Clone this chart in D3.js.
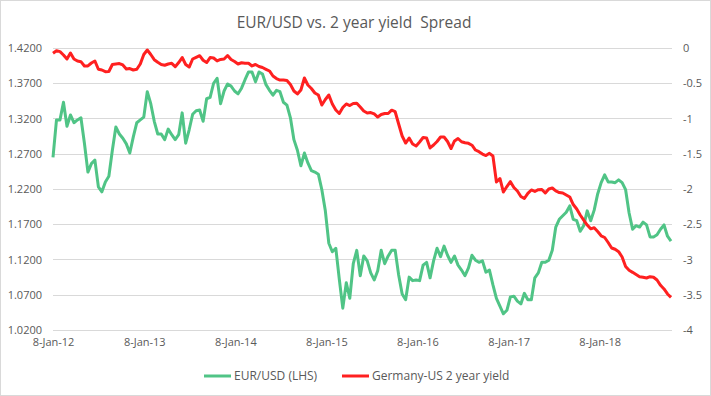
<!DOCTYPE html>
<html>
<head>
<meta charset="utf-8">
<script src="https://cdn.jsdelivr.net/npm/d3@7"></script>
<style>
  body { margin: 0; background: #fff; }
  .chart text { font-family: "Open Sans", sans-serif; fill: #595959; }
  .chart-title { font-size: 15.5px; white-space: pre; }
  .axis text { font-size: 11px; }
  .legend text { font-size: 12px; }
</style>
</head>
<body>
<div class="chart"></div>
<script>
// weekly-ish observations, every 2 weeks from 8-Jan-12
var startDate = "2012-01-08";
var stepDays = 14;

// EUR/USD (LHS)
var eurusd = [
  1.265, 1.318, 1.318, 1.343, 1.309, 1.325, 1.314, 1.318, 1.321, 1.285,
  1.244, 1.256, 1.261, 1.223, 1.216, 1.230, 1.238, 1.275, 1.308, 1.298,
  1.292, 1.284, 1.271, 1.294, 1.314, 1.318, 1.322, 1.358, 1.341, 1.316,
  1.298, 1.298, 1.290, 1.305, 1.297, 1.290, 1.297, 1.328, 1.285, 1.304,
  1.326, 1.331, 1.332, 1.316, 1.348, 1.350, 1.370, 1.377, 1.341, 1.359,
  1.369, 1.366, 1.359, 1.355, 1.363, 1.375, 1.386, 1.386, 1.372, 1.386,
  1.383, 1.368, 1.360, 1.353, 1.360, 1.358, 1.343, 1.339, 1.321, 1.290,
  1.275, 1.253, 1.271, 1.257, 1.246, 1.244, 1.241, 1.219, 1.189, 1.143,
  1.131, 1.136, 1.092, 1.051, 1.087, 1.065, 1.114, 1.133, 1.097, 1.125,
  1.118, 1.101, 1.091, 1.104, 1.133, 1.114, 1.125, 1.133, 1.133, 1.098,
  1.071, 1.063, 1.095, 1.090, 1.091, 1.090, 1.112, 1.116, 1.094, 1.118,
  1.136, 1.124, 1.139, 1.126, 1.116, 1.125, 1.112, 1.105, 1.097, 1.108,
  1.126, 1.119, 1.116, 1.118, 1.102, 1.105, 1.084, 1.065, 1.054, 1.043,
  1.048, 1.067, 1.068, 1.061, 1.057, 1.072, 1.063, 1.063, 1.094, 1.101,
  1.116, 1.116, 1.119, 1.133, 1.166, 1.177, 1.182, 1.187, 1.196, 1.177,
  1.175, 1.160, 1.168, 1.189, 1.175, 1.190, 1.213, 1.229, 1.240, 1.230,
  1.230, 1.229, 1.233, 1.229, 1.219, 1.186, 1.163, 1.168, 1.166, 1.173,
  1.169, 1.152, 1.152, 1.155, 1.163, 1.169, 1.153, 1.146
];

// Germany-US 2 year yield spread (RHS)
var spread = [
  -0.075, -0.038, -0.052, -0.099, -0.156, -0.071, -0.156, -0.184, -0.194, -0.255,
  -0.255, -0.213, -0.184, -0.302, -0.312, -0.336, -0.333, -0.234, -0.227, -0.220,
  -0.241, -0.298, -0.291, -0.312, -0.302, -0.227, -0.092, -0.028, -0.092, -0.166,
  -0.203, -0.234, -0.245, -0.227, -0.217, -0.265, -0.206, -0.135, -0.234, -0.270,
  -0.156, -0.132, -0.109, -0.174, -0.206, -0.135, -0.142, -0.184, -0.163, -0.156,
  -0.106, -0.163, -0.191, -0.227, -0.209, -0.217, -0.217, -0.255, -0.234, -0.262,
  -0.277, -0.302, -0.326, -0.397, -0.433, -0.454, -0.454, -0.461, -0.518, -0.610,
  -0.652, -0.596, -0.426, -0.525, -0.574, -0.638, -0.667, -0.809, -0.730, -0.667,
  -0.794, -0.879, -0.929, -0.844, -0.794, -0.816, -0.787, -0.784, -0.837, -0.894,
  -0.922, -0.915, -0.936, -0.979, -0.943, -0.929, -0.929, -0.882, -0.904, -1.078,
  -1.248, -1.348, -1.277, -1.362, -1.390, -1.333, -1.270, -1.277, -1.418, -1.376,
  -1.326, -1.262, -1.262, -1.326, -1.426, -1.319, -1.284, -1.330, -1.344, -1.352,
  -1.379, -1.447, -1.471, -1.504, -1.525, -1.494, -1.532, -1.901, -1.851, -2.043,
  -1.965, -1.896, -1.979, -2.028, -2.106, -2.135, -2.061, -2.014, -2.035, -2.010,
  -2.007, -2.057, -2.000, -1.986, -2.028, -2.050, -2.057, -2.085, -2.113, -2.220,
  -2.284, -2.369, -2.440, -2.511, -2.565, -2.549, -2.603, -2.664, -2.688, -2.759,
  -2.837, -2.855, -2.889, -2.965, -3.099, -3.153, -3.182, -3.213, -3.244, -3.252,
  -3.262, -3.244, -3.252, -3.291, -3.366, -3.418, -3.489, -3.536
];

// axis ticks
var xTickDates = ["2012-01-08", "2013-01-08", "2014-01-08", "2015-01-08", "2016-01-08", "2017-01-08", "2018-01-08"];
var leftTicks = [1.02, 1.07, 1.12, 1.17, 1.22, 1.27, 1.32, 1.37, 1.42];
var rightTicks = [0, -0.5, -1, -1.5, -2, -2.5, -3, -3.5, -4];

var seriesNames = ["EUR/USD (LHS)", "Germany-US 2 year yield"];
var seriesColors = ["#50c486", "#ff2020"];

function drawChart() {

    var W = 711, H = 396;
    var margin = {top: 48, right: 39, bottom: 66, left: 53},
        width = W - margin.left - margin.right,
        height = H - margin.top - margin.bottom;

    var parseDate = d3.utcParse("%Y-%m-%d");
    var formatDate = d3.utcFormat("%-d-%b-%y");
    var start = parseDate(startDate);
    var dates = eurusd.map(function(d, i) { return d3.utcDay.offset(start, i * stepDays); });

    var data = dates.map(function(d, i) {
        return {date: d, fx: eurusd[i], spread: spread[i]};
    });

    // scales
    var x = d3.scaleUtc()
        .domain(d3.extent(dates))
        .range([0, width - 1]);
    var yL = d3.scaleLinear().domain([1.02, 1.42]).range([height, 0]);
    var yR = d3.scaleLinear().domain([-4, 0]).range([height, 0]);

    var svg = d3.select(".chart").append("svg")
        .attr("width", W)
        .attr("height", H);

    // chart border
    svg.append("rect")
        .attr("x", 0.5).attr("y", 0.5)
        .attr("width", W - 1).attr("height", H - 1)
        .attr("fill", "#fff")
        .attr("stroke", "#d9d9d9");

    svg.append("text")
        .attr("class", "chart-title")
        .attr("x", 354)
        .attr("y", 28)
        .attr("text-anchor", "middle")
        .text("EUR/USD vs. 2 year yield  Spread");

    var g = svg.append("g")
        .attr("transform", `translate(${margin.left}, ${margin.top})`);

    // gridlines
    g.append("g")
        .selectAll("line")
        .data(leftTicks)
        .join("line")
        .attr("x1", 0)
        .attr("x2", width)
        .attr("y1", function(d) { return Math.round(yL(d)) + 0.5; })
        .attr("y2", function(d) { return Math.round(yL(d)) + 0.5; })
        .attr("stroke", "#d9d9d9")
        .attr("stroke-width", 1);

    // left axis
    var left = g.append("g")
        .attr("class", "axis")
        .attr("transform", "translate(-11, 0)")
        .call(d3.axisLeft(yL).tickValues(leftTicks).tickSize(0).tickPadding(0).tickFormat(d3.format(".4f")));
    left.select(".domain").remove();

    // right axis
    var right = g.append("g")
        .attr("class", "axis")
        .attr("transform", `translate(${width + 11}, 0)`)
        .call(d3.axisRight(yR).tickValues(rightTicks).tickSize(0).tickPadding(0)
            .tickFormat(function(d) { return String(d); }));
    right.select(".domain").remove();

    // x axis
    var bottom = g.append("g")
        .attr("class", "axis")
        .attr("transform", `translate(0, ${height + 8})`)
        .call(d3.axisBottom(x).tickValues(xTickDates.map(parseDate)).tickSize(0).tickPadding(0).tickFormat(formatDate));
    bottom.select(".domain").remove();

    g.selectAll(".axis text").attr("fill", "#595959");

    // lines
    var fxLine = d3.line()
        .x(function(d) { return x(d.date); })
        .y(function(d) { return yL(d.fx); });
    var spreadLine = d3.line()
        .x(function(d) { return x(d.date); })
        .y(function(d) { return yR(d.spread); });

    g.append("path")
        .datum(data)
        .attr("fill", "none")
        .attr("stroke", seriesColors[0])
        .attr("stroke-width", 3)
        .attr("stroke-linejoin", "round")
        .attr("d", fxLine);

    g.append("path")
        .datum(data)
        .attr("fill", "none")
        .attr("stroke", seriesColors[1])
        .attr("stroke-width", 3)
        .attr("stroke-linejoin", "round")
        .attr("d", spreadLine);

    // legend
    var legend = svg.append("g").attr("class", "legend");
    var legendX = [204, 342];
    seriesNames.forEach(function(name, i) {
        legend.append("line")
            .attr("x1", legendX[i]).attr("x2", legendX[i] + 27)
            .attr("y1", 376).attr("y2", 376)
            .attr("stroke", seriesColors[i])
            .attr("stroke-width", 3);
        legend.append("text")
            .attr("x", legendX[i] + 30)
            .attr("y", 380)
            .text(name);
    });
}

drawChart();
</script>
</body>
</html>
